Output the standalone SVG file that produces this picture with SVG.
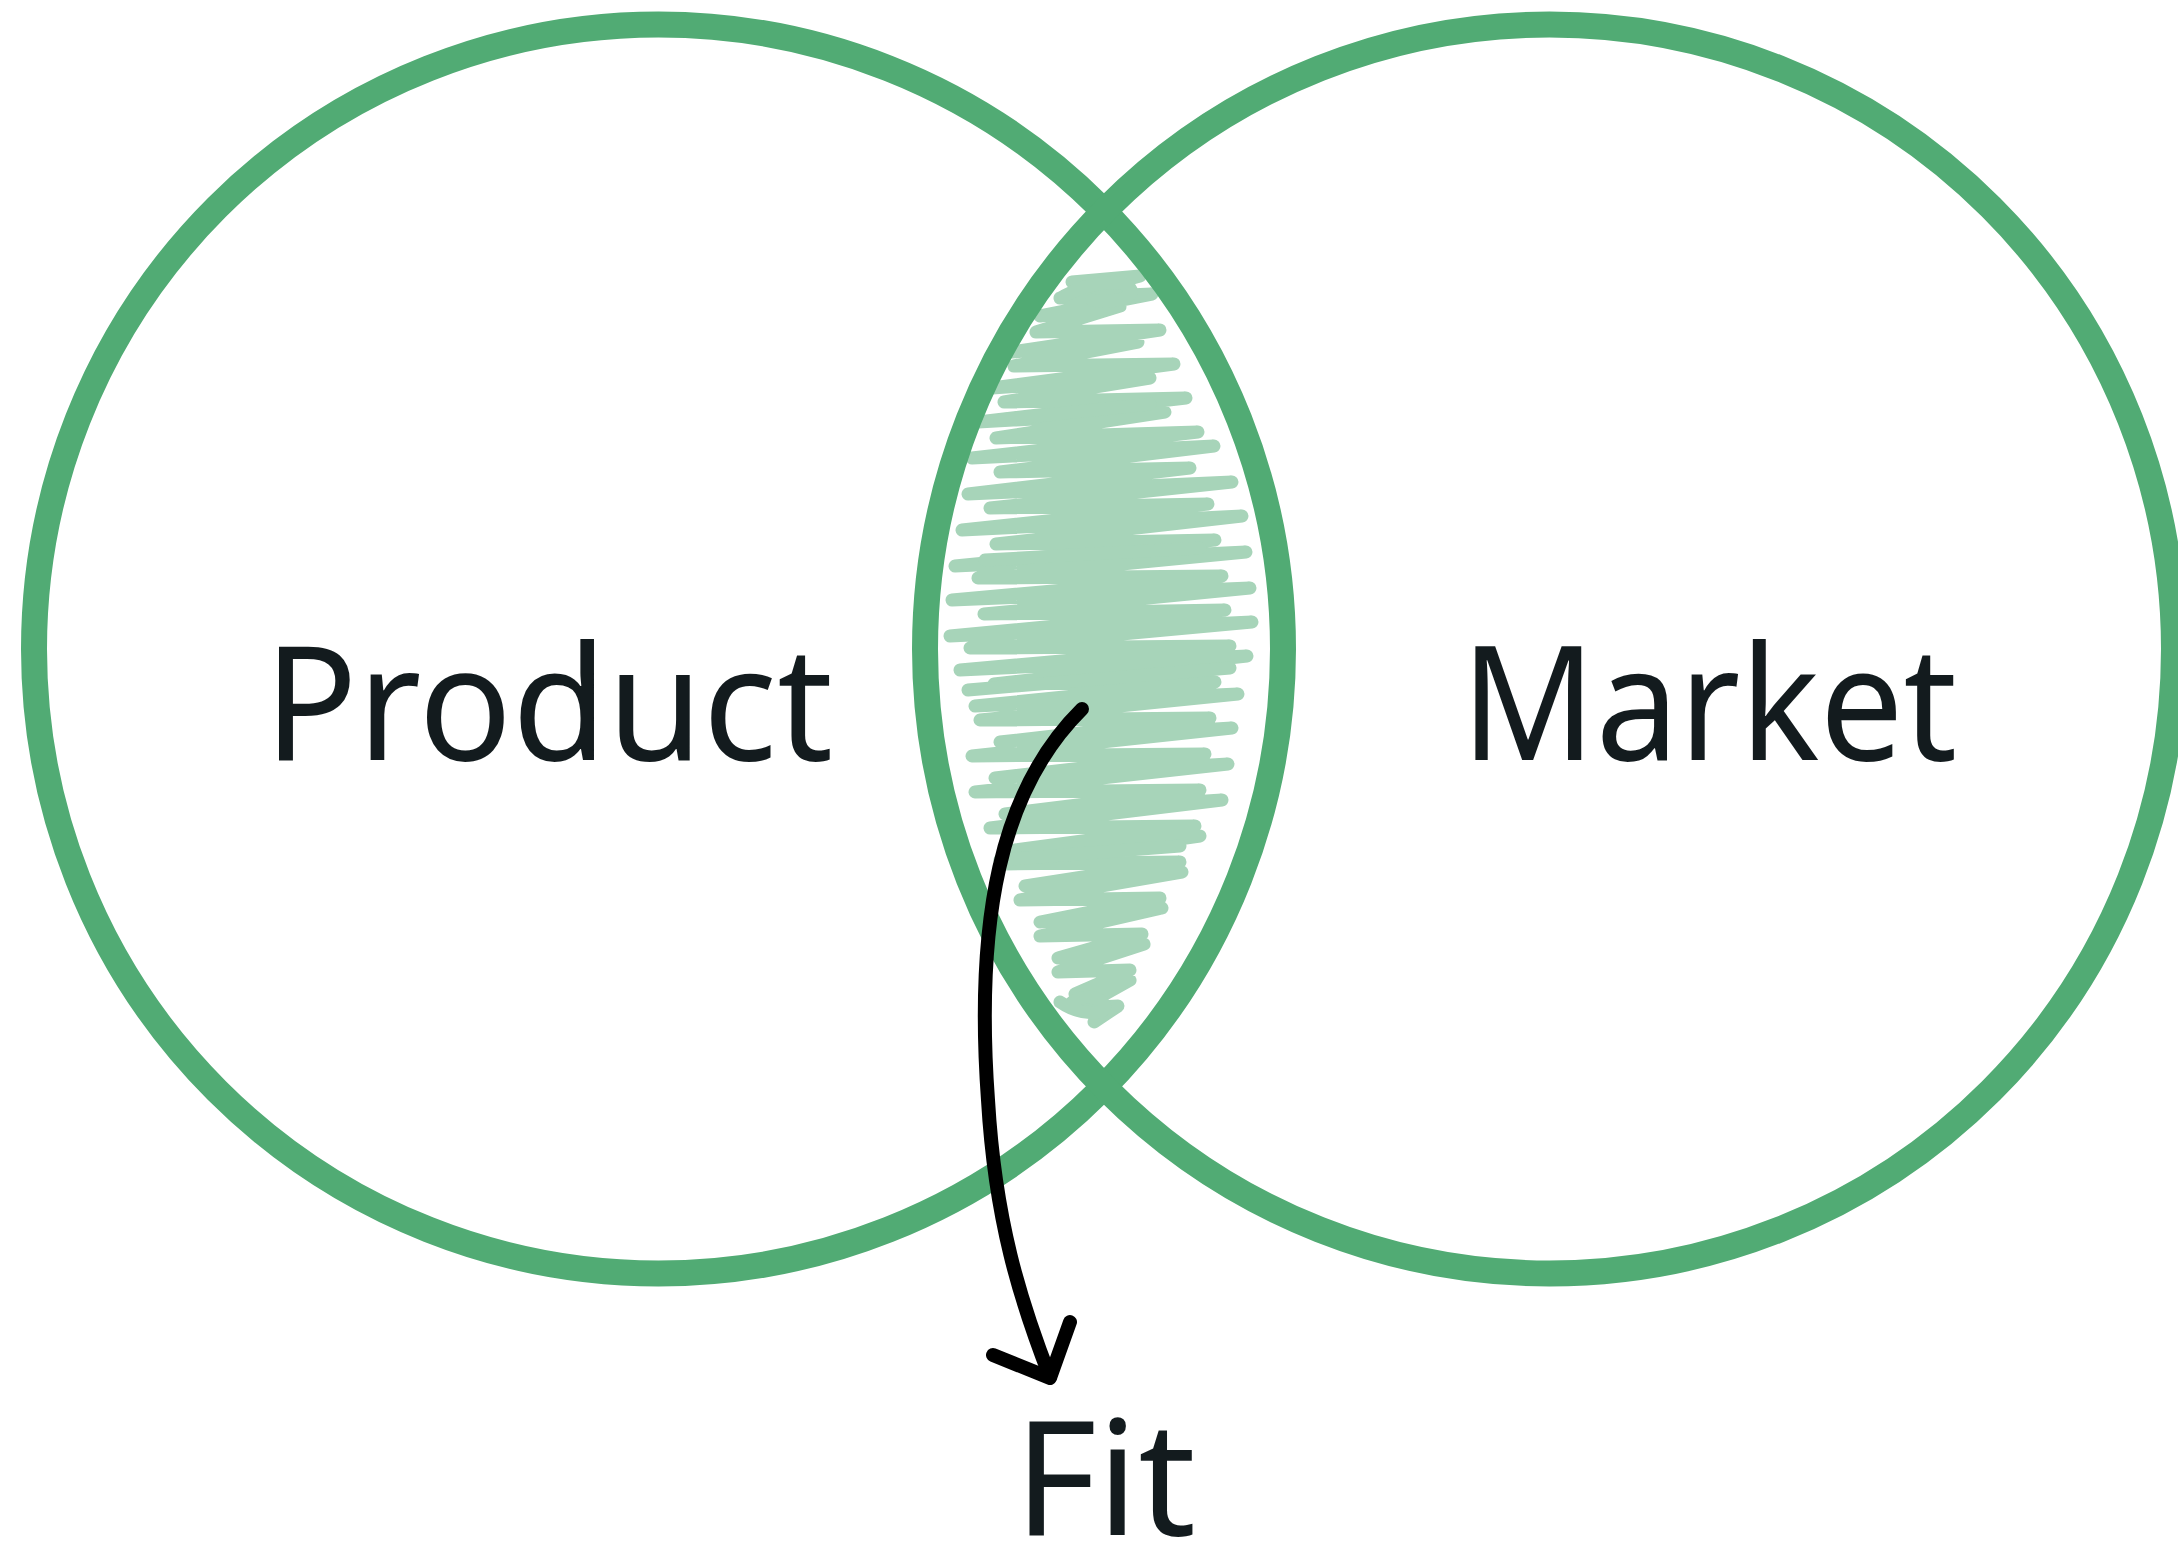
<svg xmlns="http://www.w3.org/2000/svg" width="2178" height="1551" viewBox="0 0 2178 1551">
  <style>
    .ring { fill: none; stroke: #51ab74; stroke-width: 26; }
    .scribble { fill: none; stroke: #a7d4b9; stroke-width: 13; stroke-linecap: round; stroke-linejoin: round; }
    .label { font-family: "Noto Sans", "Open Sans", sans-serif; font-size: 160px; fill: #131b1e; }
    .arrow { fill: none; stroke: #000000; stroke-width: 14; stroke-linecap: round; stroke-linejoin: round; }
  </style>
  <rect width="2178" height="1551" fill="#ffffff"/>
  <g id="fit-area">
    <path class="scribble" d="M1072,282 L1140,276 L1060,298 L1152,294 L1040,316 L1120,306 L1036,332 L1160,330 L1012,352 L1138,342 L1014,366 L1174,364 L992,388 L1150,378 L1004,402 L1186,398 L978,422 L1165,412 L996,438 L1198,432 L972,458 L1214,446 L1000,472 L1190,468 L968,494 L1232,482 L990,508 L1208,504 L962,530 L1242,516 L996,544 L1215,540 L955,566 L1246,552 L978,578 L1222,576 L952,600 L1250,588 L984,614 L1225,610 L950,636 L1252,622 L970,648 L1230,646 L960,670 L1247,656 L994,684 L1215,682 L975,706 L1238,694 L980,720 L1210,718 L1000,742 L1232,728 L972,756 L1205,754 L995,778 L1228,764 L975,792 L1200,790 L1005,814 L1222,800 L990,828 L1195,826 L1015,850 L1200,836 L1004,864 L1180,862 L1025,886 L1182,872 L1020,900 L1160,898 L1040,922 L1162,908 L1040,936 L1142,934 L1058,958 L1144,944 L1058,972 L1130,970 L1075,994 L1130,980 L1080,1008 L1118,1006 L1094,1022"/>
    <path class="scribble" d="M1064,296 C1090,282 1122,278 1130,288 C1138,298 1110,304 1092,300 M1000,420 L1150,404 M985,560 L1200,548 M968,690 L1230,668 M1000,860 L1180,846 M1060,1002 C1080,1016 1110,1016 1104,1004 C1098,994 1078,996 1070,1004"/>
  </g>
  <g id="product">
    <circle class="ring" cx="658.5" cy="649" r="624.5"/>
    <text class="label" x="264" y="760" textLength="569" lengthAdjust="spacingAndGlyphs">Product</text>
  </g>
  <g id="market">
    <circle class="ring" cx="1549.5" cy="649" r="624.5"/>
    <text class="label" x="1461" y="760" textLength="496" lengthAdjust="spacingAndGlyphs">Market</text>
  </g>
  <g id="fit">
    <text class="label" x="1014" y="1535" textLength="182" lengthAdjust="spacingAndGlyphs">Fit</text>
  </g>
  <g id="connectors">
    <path class="arrow" d="M1082,709 C1000,790 975,920 988,1100 C995,1220 1020,1300 1050,1377"/>
    <polyline class="arrow" points="993,1355 1050,1378 1070,1322"/>
  </g>
</svg>
